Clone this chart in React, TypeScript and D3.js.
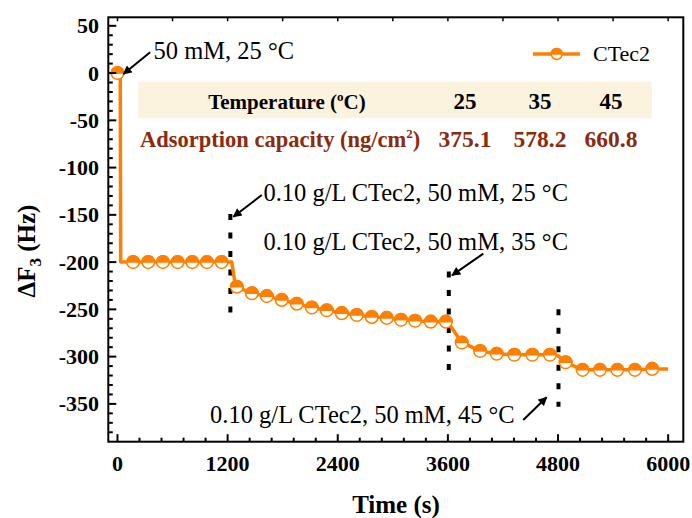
import React from 'react';
import * as d3 from 'd3';

// trace of the QCM-D run (markers)
const markerTime = [0, 170, 335, 495, 655, 815, 975, 1135,
  1300, 1464, 1627, 1790, 1954, 2117, 2280, 2444, 2607, 2770, 2934, 3089, 3242, 3413, 3579,
  3751, 3951, 4132, 4324, 4520, 4712,
  4883, 5068, 5257, 5446, 5638, 5826];
const markerDF = [0, -200, -200, -200, -200, -200, -200, -200,
  -226, -233, -236, -240, -244, -248, -251, -254, -256, -258, -259, -261, -262, -263, -263,
  -285, -294, -297, -298, -298, -298,
  -306, -314, -314, -314, -314, -313];
// extra points of the line between markers (injection steps, end of run)
const kneeTime = [30, 35, 1245, 1280, 3610, 4800, 6000];
const kneeDF = [0, -200, -200, -222, -265, -299, -313];

// injections (dashed lines)
const injectTime = [1230, 3610, 4805];
const injectTop = [-149, -210, -250];
const injectBottom = [-254, -315, -353];

// annotations
const noteText = ['50 mM, 25 °C', '0.10 g/L CTec2, 50 mM, 25 °C', '0.10 g/L CTec2, 50 mM, 35 °C', '0.10 g/L CTec2, 50 mM, 45 °C'];
const noteTime = [393, 1590, 1590, 1009];
const noteDF = [15, -135, -187, -370];
const arrowFromTime = [356, 1572, 3986, 4421];
const arrowFromDF = [22, -129, -191, -367];
const arrowToTime = [65, 1263, 3645, 4676];
const arrowToDF = [-1, -152, -214, -343];

// inset table
const tableTemps = ['25', '35', '45'];
const tableCapacity = ['375.1', '578.2', '660.8'];

const xTicks = [0, 1200, 2400, 3600, 4800, 6000];
const yTicks = [50, 0, -50, -100, -150, -200, -250, -300, -350];

const ORANGE = '#FF8000';
const SERIF = '"Liberation Serif", "Times New Roman", serif';

export default function App() {
  const left = 108.3, right = 683.3, top = 17.3, bottom = 441.7;
  const x = d3.scaleLinear().domain([-100, 6165]).range([left, right]);
  const y = d3.scaleLinear().domain([-390, 59]).range([bottom, top]);

  const pts = markerTime.map((t, i) => [t, markerDF[i]])
    .concat(kneeTime.map((t, i) => [t, kneeDF[i]]))
    .sort((a, b) => a[0] - b[0]);
  const line = d3.line<number[]>().x(d => x(d[0])).y(d => y(d[1]));

  const minorX = d3.range(0, 6001, 240).filter(v => v % 1200 !== 0);
  const minorY = d3.range(-380, 51, 10).filter(v => v % 50 !== 0);
  const topTicks = d3.range(0, 6001, 600);

  const halfUp = (cx: number, cy: number, r: number, key: any) => (
    <g key={key}>
      <circle cx={cx} cy={cy} r={r} fill="white" stroke={ORANGE} strokeWidth={1.5} />
      <path d={`M${cx - r},${cy} A${r},${r} 0 0 1 ${cx + r},${cy} Z`} fill={ORANGE} stroke={ORANGE} strokeWidth={1.5} />
    </g>
  );

  const colX = [465, 540, 611];

  return (
    <svg width={692} height={518} style={{ position: 'absolute', left: 0, top: 0, background: 'white' }}
      fontFamily={SERIF}>
      <defs>
        <marker id="ah" viewBox="0 0 10 10" refX="9" refY="5" markerWidth="10" markerHeight="9"
          markerUnits="userSpaceOnUse" orient="auto">
          <path d="M0,0 L10,5 L0,10 z" fill="black" />
        </marker>
      </defs>

      {/* inset table */}
      <rect x={138} y={81.7} width={514} height={36.6} fill="#FCF3DE" />
      <text x={287} y={109} textAnchor="middle" fontWeight="bold" fontSize={21}>
        Temperature (<tspan fontSize={13} dy={-8}>o</tspan><tspan dy={8}>C)</tspan>
      </text>
      {tableTemps.map((t, i) => (
        <text key={t} x={colX[i]} y={109} textAnchor="middle" fontWeight="bold" fontSize={23}>{t}</text>
      ))}
      <text x={140} y={146.5} fontWeight="bold" fontSize={22.5} fill="#8C2A0C">
        Adsorption capacity (ng/cm<tspan fontSize={13} dy={-9}>2</tspan><tspan dy={9}>)</tspan>
      </text>
      {tableCapacity.map((t, i) => (
        <text key={t} x={colX[i]} y={146.5} textAnchor="middle" fontWeight="bold" fontSize={23.5} fill="#8C2A0C">{t}</text>
      ))}

      {/* injection markers */}
      {injectTime.map((t, i) => (
        <line key={t} x1={x(t)} x2={x(t)} y1={y(injectTop[i])} y2={y(injectBottom[i])}
          stroke="black" strokeWidth={4} strokeDasharray="6 12.5" />
      ))}

      {/* trace */}
      <path d={line(pts) || ''} fill="none" stroke={ORANGE} strokeWidth={3.5} strokeLinejoin="round" />
      {markerTime.map((t, i) => halfUp(x(t), y(markerDF[i]), 6.3, i))}

      {/* annotations */}
      {noteText.map((s, i) => (
        <g key={s}>
          <text x={x(noteTime[i])} y={y(noteDF[i])} fontSize={24.5}>{s}</text>
          <line x1={x(arrowFromTime[i])} y1={y(arrowFromDF[i])} x2={x(arrowToTime[i])} y2={y(arrowToDF[i])}
            stroke="black" strokeWidth={2} markerEnd="url(#ah)" />
        </g>
      ))}

      {/* legend */}
      <line x1={533} x2={580} y1={54} y2={54} stroke={ORANGE} strokeWidth={3.5} />
      {halfUp(556.7, 54, 5.5, 'leg')}
      <text x={593} y={61} fontSize={22}>CTec2</text>

      {/* axes frame */}
      <rect x={left} y={top} width={right - left} height={bottom - top} fill="none" stroke="black" strokeWidth={2} />
      {xTicks.map(v => (
        <g key={v}>
          <line x1={x(v)} x2={x(v)} y1={bottom} y2={bottom - 7.5} stroke="black" strokeWidth={2} />
          <text x={x(v)} y={471} textAnchor="middle" fontWeight="bold" fontSize={22}>{v}</text>
        </g>
      ))}
      {minorX.map(v => (
        <line key={v} x1={x(v)} x2={x(v)} y1={bottom} y2={bottom - 4} stroke="black" strokeWidth={2} />
      ))}
      {topTicks.map(v => (
        <line key={v} x1={x(v)} x2={x(v)} y1={top} y2={top + 4} stroke="black" strokeWidth={1.5} />
      ))}
      {yTicks.map(v => (
        <g key={v}>
          <line x1={left} x2={left + 8} y1={y(v)} y2={y(v)} stroke="black" strokeWidth={2} />
          <text x={99} y={y(v) + 7.5} textAnchor="end" fontWeight="bold" fontSize={22}>{v}</text>
        </g>
      ))}
      {minorY.map(v => (
        <line key={v} x1={left} x2={left + 4.5} y1={y(v)} y2={y(v)} stroke="black" strokeWidth={2} />
      ))}

      {/* axis titles */}
      <text x={396} y={513} textAnchor="middle" fontWeight="bold" fontSize={25}>Time (s)</text>
      <text transform="translate(35,251) rotate(-90)" textAnchor="middle" fontWeight="bold" fontSize={25}>
        ΔF<tspan fontSize={17} dy={6}>3</tspan><tspan dy={-6}> (Hz)</tspan>
      </text>
    </svg>
  );
}
